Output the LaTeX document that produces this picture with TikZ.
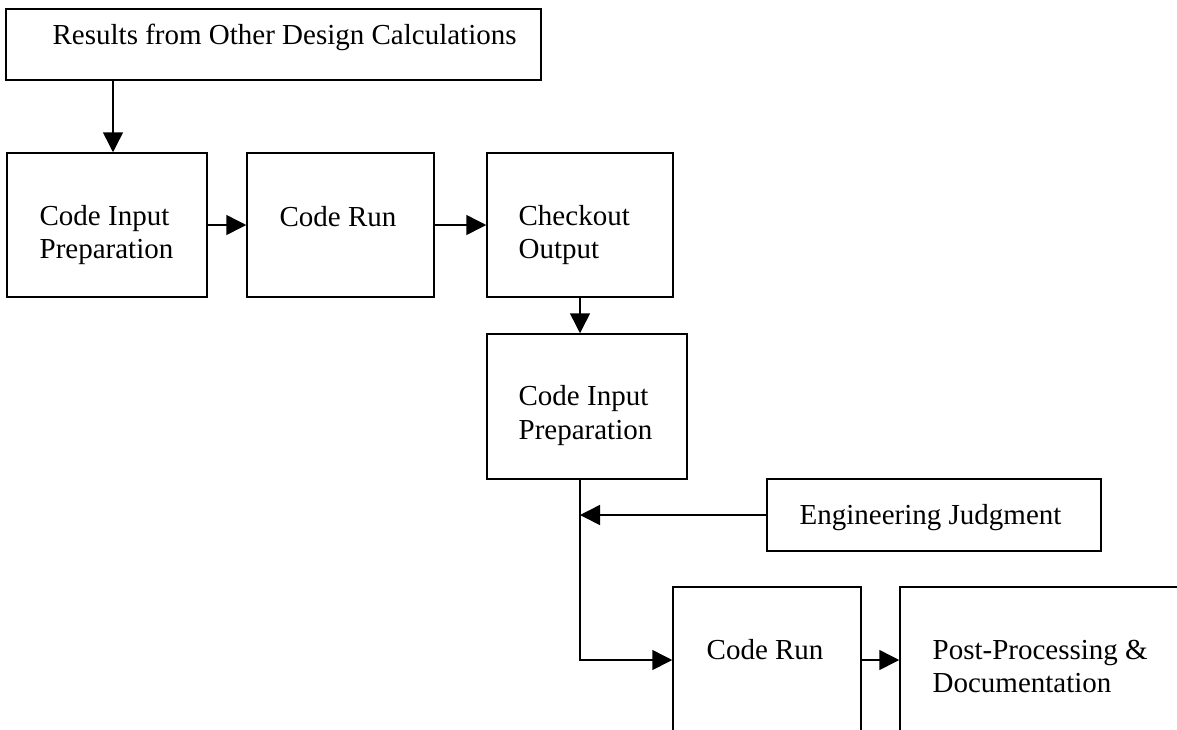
\documentclass[tikz,border=0pt]{standalone}
\usepackage{fontspec}
\setmainfont{Liberation Serif}
\usetikzlibrary{arrows.meta}

\begin{document}
\begin{tikzpicture}[x=0.5pt,y=-0.5pt,font=\fontsize{14.5}{16.8}\selectfont,
        box/.style={draw,line width=0.75pt,inner sep=0pt},
        txt/.style={anchor=base west,inner sep=0pt,align=left},
        arr/.style={line width=0.75pt,-{Triangle[length=10pt,width=10pt]}}]
        \useasboundingbox (0,0) rectangle (1177,729);
        \clip (0,0) rectangle (1177,729);
        \fill[white] (0,0) rectangle (1177,729);
        % boxes
        \node[box,minimum width=267.5pt,minimum height=35.5pt] (res) at (273.5,44.5) {};
        \node[box,minimum width=100pt,minimum height=72pt] (cip1) at (107,225) {};
        \node[box,minimum width=93.5pt,minimum height=72pt] (cr1) at (340.5,225) {};
        \node[box,minimum width=93pt,minimum height=72pt] (co) at (580,225) {};
        \node[box,minimum width=100pt,minimum height=72.5pt] (cip2) at (587,406.5) {};
        \node[box,minimum width=167pt,minimum height=36pt] (ej) at (934,515) {};
        \node[box,minimum width=94pt,minimum height=73pt] (cr2) at (767,660) {};
        \node[box,minimum width=180pt,minimum height=73pt] (pp) at (1080,660) {};
        % texts (base of two-line nodes is the last line)
        \node[txt] (res-t) at ([shift={(47,36)}]res.north west) {Results from Other Design Calculations};
        \node[txt] (cip1-t) at ([shift={(33,106.5)}]cip1.north west) {Code Input\\Preparation};
        \node[txt] (cr1-t) at ([shift={(33,74)}]cr1.north west) {Code Run};
        \node[txt] (co-t) at ([shift={(32,106.5)}]co.north west) {Checkout\\Output};
        \node[txt] (cip2-t) at ([shift={(32,106)}]cip2.north west) {Code Input\\Preparation};
        \node[txt] (ej-t) at ([shift={(33,46)}]ej.north west) {Engineering Judgment};
        \node[txt] (cr2-t) at ([shift={(34,73)}]cr2.north west) {Code Run};
        \node[txt] (pp-t) at ([shift={(33,106.5)}]pp.north west) {Post-Processing \&\\Documentation};
        % arrows
        \draw[arr] ([xshift=3pt]cip1.north |- res.south) -- ([xshift=3pt]cip1.north);
        \draw[arr] (cip1) -- (cr1);
        \draw[arr] (cr1) -- (co);
        \draw[arr] (co) -- (co.south |- cip2.north);
        \coordinate (jn) at (co.south |- ej.west);
        \draw[arr] (co.south |- cip2.south) -- (co.south |- cr2.west) -- (cr2.west);
        \draw[arr] (ej) -- (jn);
        \draw[arr] (cr2) -- (pp);
    \end{tikzpicture}
\end{document}
